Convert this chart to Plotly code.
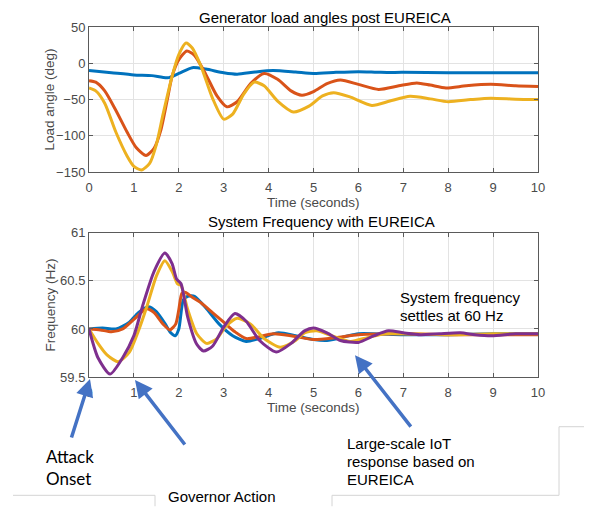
import plotly.graph_objects as go

# ---------------- data ----------------
# Top panel: generator load angles (deg)
t_blue_top = [0, 0.5, 1.0, 1.4, 1.75, 2.0, 2.3, 2.6, 3.0, 3.3, 3.7, 4.1, 4.6, 5.0, 5.5, 6.0, 6.5, 7.0, 8.0, 9.0, 10]
v_blue_top = [-10, -13, -16, -17, -20, -14, -6, -8, -13, -15, -12, -10, -12, -14, -12.5, -11.5, -12.5, -12.5, -13, -13, -13]

t_red_top = [0, 0.15, 0.35, 0.6, 0.85, 1.05, 1.27, 1.45, 1.6, 1.75, 1.85, 2.0, 2.18, 2.35, 2.6, 2.85, 3.07, 3.3, 3.6, 3.9,
             4.2, 4.5, 4.74, 5.0, 5.3, 5.6, 6.0, 6.45, 6.9, 7.3, 7.6, 7.95, 8.4, 8.95, 9.5, 10]
v_red_top = [-24, -26, -38, -65, -95, -116, -127, -117, -92, -48, -18, 5, 17, 11, -15, -45, -60, -53, -28, -14,
             -22, -38, -44, -39, -28, -23, -29, -36, -31, -27, -30, -34, -31, -29, -31, -32]

t_yel_top = [0, 0.15, 0.35, 0.6, 0.85, 1.0, 1.17, 1.35, 1.5, 1.65, 1.85, 2.0, 2.16, 2.3, 2.5, 2.75, 3.0, 3.2, 3.45, 3.68,
             3.9, 4.2, 4.55, 4.9, 5.2, 5.45, 5.8, 6.3, 6.7, 7.15, 7.6, 8.0, 8.5, 8.95, 9.5, 10]
v_yel_top = [-34, -38, -55, -95, -128, -142, -147, -138, -112, -70, -18, 12, 28, 21, -5, -48, -77, -70, -42, -26,
             -31, -52, -67, -59, -45, -40.5, -46, -58, -52, -45.5, -49, -53, -50, -48, -49.5, -50]

# Bottom panel: system frequency (Hz)
t_blue_bot = [0, 0.3, 0.6, 0.9, 1.1, 1.32, 1.5, 1.7, 1.82, 1.92, 2.0, 2.1, 2.2, 2.35, 2.6, 2.9, 3.2, 3.5, 3.8, 4.22,
              4.6, 5.0, 5.3, 5.7, 6.0, 7.0, 8.0, 9.0, 10]
v_blue_bot = [60.0, 60.01, 60.0, 60.07, 60.17, 60.23, 60.18, 60.05, 59.96, 59.93, 60.0, 60.3, 60.34, 60.34, 60.22,
              60.05, 59.93, 59.87, 59.9, 59.96, 59.93, 59.89, 59.88, 59.92, 59.95, 59.94, 59.94, 59.95, 59.95]

t_red_bot = [0, 0.25, 0.5, 0.75, 1.0, 1.28, 1.45, 1.65, 1.8, 1.93, 2.0, 2.07, 2.15, 2.3, 2.5, 2.75, 3.0, 3.25, 3.5,
             3.8, 4.1, 4.5, 5.0, 5.5, 6.0, 7.0, 8.0, 9.0, 10]
v_red_bot = [60.0, 59.99, 59.97, 60.0, 60.1, 60.21, 60.17, 60.05, 59.99, 60.05, 60.2, 60.37, 60.38, 60.33, 60.27,
             60.17, 60.07, 59.97, 59.9, 59.92, 59.95, 59.93, 59.89, 59.91, 59.94, 59.95, 59.94, 59.94, 59.94]

t_yel_bot = [0, 0.2, 0.4, 0.65, 0.9, 1.1, 1.3, 1.5, 1.69, 1.85, 1.97, 2.05, 2.2, 2.4, 2.62, 2.85, 3.05, 3.3, 3.6,
             3.9, 4.26, 4.6, 4.8, 5.07, 5.4, 5.82, 6.2, 6.6, 7.0, 8.0, 9.0, 10]
v_yel_bot = [60.0, 59.85, 59.73, 59.66, 59.76, 59.98, 60.25, 60.55, 60.71, 60.6, 60.47, 60.45, 60.2, 59.95, 59.85,
             59.9, 60.03, 60.11, 60.05, 59.9, 59.81, 59.88, 59.96, 59.98, 59.93, 59.87, 59.91, 59.95, 59.95, 59.94,
             59.95, 59.95]

t_pur_bot = [0, 0.2, 0.47, 0.75, 1.0, 1.2, 1.45, 1.69, 1.85, 1.95, 2.05, 2.2, 2.4, 2.55, 2.75, 3.0, 3.25, 3.5, 3.8,
             4.17, 4.5, 4.8, 5.0, 5.3, 5.6, 6.0, 6.35, 6.67, 7.0, 7.38, 7.8, 8.27, 8.6, 8.97, 9.5, 10]
v_pur_bot = [60.0, 59.7, 59.53, 59.7, 59.93, 60.25, 60.6, 60.79, 60.68, 60.52, 60.47, 60.12, 59.84, 59.77, 59.82,
             60.02, 60.16, 60.08, 59.88, 59.76, 59.85, 59.98, 60.01, 59.96, 59.88, 59.86, 59.93, 59.98, 59.96, 59.94,
             59.95, 59.96, 59.94, 59.93, 59.95, 59.95]

x_ticks = [0, 1, 2, 3, 4, 5, 6, 7, 8, 9, 10]
top_ticks = [-150, -100, -50, 0, 50]
bot_ticks = [59.5, 60, 60.5, 61]
bot_tick_text = ["59.5", "60", "60.5", "61"]

# ---------------- styling ----------------
BLUE = "#0072BD"
RED = "#D95319"
YEL = "#EDB120"
PUR = "#7E2F8E"
ARROW = "#4472C4"
OFF = 8  # page body margin in the browser
W, H = 592 - OFF, 507 - OFF
# plot area in screen pixels: x 89..538, y (top) 25..171, (bottom) 232..377
L = 89 - OFF
T = 25 - OFF
R = W - (538 - OFF)
B = H - (377 - OFF)
PW, PH = W - L - R, H - T - B


def px(xs):
    return (xs - OFF - L) / PW


def py(ys):
    return (H - B - (ys - OFF)) / PH


fig = go.Figure()


def add(t, v, c, xa, ya):
    fig.add_trace(go.Scatter(x=t, y=v, mode="lines", xaxis=xa, yaxis=ya,
                             line=dict(color=c, width=3, shape="spline", smoothing=0.65),
                             showlegend=False, hoverinfo="skip"))


add(t_blue_top, v_blue_top, BLUE, "x", "y")
add(t_red_top, v_red_top, RED, "x", "y")
add(t_yel_top, v_yel_top, YEL, "x", "y")
add(t_blue_bot, v_blue_bot, BLUE, "x2", "y2")
add(t_red_bot, v_red_bot, RED, "x2", "y2")
add(t_yel_bot, v_yel_bot, YEL, "x2", "y2")
add(t_pur_bot, v_pur_bot, PUR, "x2", "y2")

axis_common = dict(showline=True, linecolor="#5a5a5a", linewidth=1, mirror="ticks",
                   ticks="inside", ticklen=4, tickcolor="#5a5a5a",
                   showgrid=True, gridcolor="#e3e3e3", gridwidth=1, zeroline=False,
                   tickfont=dict(family="Liberation Sans, Arial", size=13, color="#4a4a4a"))

fig.update_layout(
    width=W, height=H,
    margin=dict(l=L, r=R, t=T, b=B),
    paper_bgcolor="white", plot_bgcolor="white",
    xaxis=dict(domain=[0, 1], anchor="y", range=[0, 10], tickvals=x_ticks, ticklabelstandoff=3, **axis_common),
    yaxis=dict(domain=[py(171), 1], anchor="x", range=[-150, 50], tickvals=top_ticks, **axis_common),
    xaxis2=dict(domain=[0, 1], anchor="y2", range=[0, 10], tickvals=x_ticks, ticklabelstandoff=3, **axis_common),
    yaxis2=dict(domain=[0, py(232)], anchor="x2", range=[59.5, 61], tickvals=bot_ticks,
                ticktext=bot_tick_text, **axis_common),
)

ann = []


def text(s, xs, ys, size, color="black", family="Liberation Sans, Arial", xanchor="left", angle=0):
    ann.append(dict(text=s, x=px(xs), y=py(ys), xref="paper", yref="paper", showarrow=False,
                    xanchor=xanchor, yanchor="middle", textangle=angle,
                    font=dict(family=family, size=size, color=color)))


text("Generator load angles post EUREICA", 325, 15, 15, xanchor="center")
text("System Frequency with EUREICA", 321, 221, 15, xanchor="center")
text("Time (seconds)", 313.5, 202, 13.5, color="#4a4a4a", xanchor="center")
text("Time (seconds)", 313.5, 408, 13.5, color="#4a4a4a", xanchor="center")
text("Load angle (deg)", 50, 98, 13.5, color="#4a4a4a", xanchor="center", angle=-90)
text("Frequency (Hz)", 50, 305, 13.5, color="#4a4a4a", xanchor="center", angle=-90)

text("System frequency", 398, 297, 15)
text("settles at 60 Hz", 398, 315, 15)
text("Attack", 44, 457, 17, family="Lato, Carlito, sans-serif")
text("Onset", 44, 479, 17, family="Lato, Carlito, sans-serif")
text("Governor Action", 166, 497, 15)
text("Large-scale IoT", 345, 444, 15)
text("response based on", 345, 462, 15)
text("EUREICA", 345, 480, 15)


def arrow(hx, hy, tx, ty):
    ann.append(dict(text="", x=px(hx), y=py(hy), xref="paper", yref="paper", showarrow=True,
                    ax=tx - hx, ay=ty - hy, axref="pixel", ayref="pixel",
                    arrowhead=2, arrowsize=1.0, arrowwidth=3.5, arrowcolor=ARROW, standoff=0))


arrow(90, 379, 71, 439)
arrow(135, 380, 186, 446)
arrow(355, 355, 412, 428)

fig.update_layout(annotations=ann)

# faint grey text-box borders at the bottom
shapes = []


def seg(x0, y0, x1, y1):
    shapes.append(dict(type="line", xref="paper", yref="paper", x0=px(x0), y0=py(y0), x1=px(x1), y1=py(y1),
                       line=dict(color="#d4d4d4", width=1)))


seg(13, 496, 155, 496)
seg(155, 496, 155, 507)
seg(332, 496, 332, 507)
seg(332, 496, 559, 496)
seg(559, 496, 559, 427)
seg(559, 427, 592, 427)
fig.update_layout(shapes=shapes)

fig.write_html("out.html")
